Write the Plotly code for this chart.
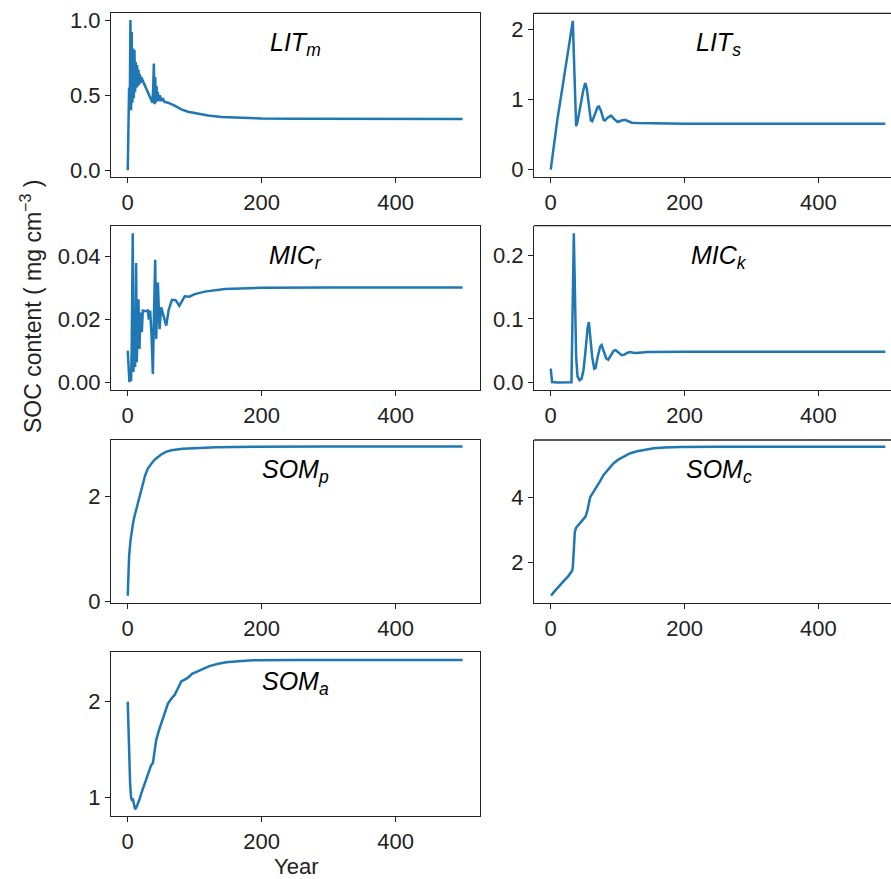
import plotly.graph_objects as go

# ---------------- data ----------------
years_lit_m = [0, 1, 2, 3, 4, 5, 6, 7, 8, 9, 10, 11, 12, 13, 14, 15, 16, 17, 18, 19, 20, 22, 25,
               28, 31, 34, 36, 37, 38, 39, 40, 41, 42, 43, 44, 45, 46, 48, 50, 52, 55, 60, 70, 80,
               90, 100, 120, 140, 160, 200, 250, 300, 400, 500]
lit_m = [0.0, 0.30, 0.55, 0.42, 1.0, 0.40, 0.92, 0.45, 0.81, 0.48, 0.80, 0.52, 0.72, 0.55, 0.70,
         0.56, 0.67, 0.57, 0.64, 0.58, 0.62, 0.60, 0.57, 0.55, 0.52, 0.49, 0.46, 0.45, 0.55, 0.71,
         0.44, 0.62, 0.45, 0.56, 0.46, 0.52, 0.46, 0.50, 0.46, 0.48, 0.455, 0.45, 0.43, 0.405,
         0.39, 0.38, 0.365, 0.355, 0.35, 0.345, 0.343, 0.342, 0.342, 0.342]

years_lit_s = [0, 5, 10, 15, 20, 25, 30, 33, 36, 38, 40, 44, 48, 51, 52, 54, 57, 60, 62, 66, 70,
               72, 75, 79, 81, 85, 90, 95, 100, 106, 111, 116, 121, 130, 150, 200, 300, 500]
lit_s = [0.0, 0.38, 0.72, 1.02, 1.32, 1.60, 1.92, 2.12, 1.20, 0.62, 0.68, 0.90, 1.10, 1.22, 1.23,
         1.15, 0.90, 0.70, 0.69, 0.80, 0.89, 0.90, 0.84, 0.71, 0.70, 0.74, 0.77, 0.72, 0.68, 0.70,
         0.71, 0.69, 0.67, 0.665, 0.66, 0.655, 0.655, 0.655]

years_mic_r = [0, 1, 2.5, 4, 5, 6, 7.5, 8.5, 10, 11, 12.5, 13.5, 15, 16, 17.5, 19, 21, 22.5, 26,
               30, 31.5, 33.5, 35.5, 37.5, 39, 41, 42.5, 45, 47.5, 50, 52, 55, 57.5, 61, 66, 71.5,
               77, 85, 92, 100, 115, 145, 200, 300, 500]
mic_r = [0.0102, 0.006, 0.0002, 0.003, 0.0005, 0.012, 0.0474, 0.0034, 0.020, 0.005, 0.038,
         0.0065, 0.020, 0.0265, 0.0107, 0.0223, 0.016, 0.0229, 0.0227, 0.0229, 0.020, 0.0229,
         0.015, 0.0028, 0.020, 0.039, 0.0139, 0.0318, 0.017, 0.0239, 0.0223, 0.020, 0.0181,
         0.023, 0.0263, 0.0262, 0.0244, 0.0274, 0.0273, 0.0281, 0.0289, 0.0297, 0.0301, 0.0302,
         0.0302]

years_mic_k = [0, 2, 10, 20, 31, 34.5, 36, 38, 40, 43, 46, 49, 52, 55, 57, 59, 62, 65, 67, 70, 74,
               76, 79, 83, 86, 90, 94, 97, 101, 106, 110, 115, 119, 125, 132, 145, 200, 500]
mic_k = [0.022, 0.001, 0.0005, 0.0005, 0.0008, 0.234, 0.15, 0.04, 0.01, 0.004, 0.006, 0.02, 0.05,
         0.085, 0.095, 0.075, 0.04, 0.022, 0.023, 0.04, 0.057, 0.059, 0.05, 0.038, 0.036, 0.043,
         0.05, 0.051, 0.047, 0.043, 0.044, 0.047, 0.048, 0.0465, 0.047, 0.048, 0.0485, 0.0485]

years_som_p = [0, 1, 2, 4, 6, 8, 10, 12.5, 15, 17.5, 20, 22.5, 26, 30, 34, 37.5, 41, 45, 50, 57,
               65, 82, 100, 132, 160, 207, 300, 500]
som_p = [0.1, 0.55, 0.85, 1.15, 1.35, 1.5, 1.62, 1.74, 1.88, 2.0, 2.13, 2.25, 2.41, 2.54, 2.62,
         2.67, 2.72, 2.76, 2.81, 2.86, 2.89, 2.92, 2.935, 2.95, 2.955, 2.958, 2.96, 2.96]

years_som_c = [0, 2, 4, 8, 14, 20, 26, 32, 33, 34, 35, 36, 38, 40, 44, 48, 52, 55, 57, 59, 63, 69,
               74, 79, 86, 94, 101, 109, 118, 129, 140, 154, 170, 194, 250, 500]
som_c = [1.0, 1.02, 1.08, 1.18, 1.32, 1.45, 1.58, 1.75, 1.85, 2.2, 2.6, 2.95, 3.08, 3.13, 3.22,
         3.32, 3.42, 3.62, 3.85, 4.02, 4.15, 4.34, 4.52, 4.70, 4.88, 5.06, 5.17, 5.27, 5.36, 5.43,
         5.48, 5.52, 5.545, 5.56, 5.57, 5.57]

years_som_a = [0, 1, 2, 3.5, 5, 6, 7.5, 9, 11, 13, 15, 17.5, 20, 24, 27.5, 31, 35, 37.5, 39, 42.5,
               47, 52, 56, 60, 65, 70, 75, 80, 85, 90, 96, 102, 112, 122, 135, 147, 165, 187, 250,
               500]
som_a = [2.0, 1.65, 1.38, 1.15, 1.0, 0.98, 0.99, 0.93, 0.88, 0.90, 0.93, 0.98, 1.04, 1.12, 1.20,
         1.28, 1.34, 1.36, 1.45, 1.60, 1.71, 1.81, 1.90, 1.98, 2.03, 2.07, 2.14, 2.21, 2.23, 2.25,
         2.29, 2.31, 2.345, 2.37, 2.395, 2.41, 2.42, 2.43, 2.435, 2.435]

x_ticks = [0, 200, 400]
y_label = "SOC content ( mg cm<sup>−3</sup> )"
x_label = "Year"

# ---------------- layout config ----------------
W, H = 891, 879
LINE = "#1f77b4"
INK = "#222222"
FONT = "Liberation Sans, Arial, sans-serif"
TICK_SIZE = 22

cols = {0: (111, 480, [-25, 526]), 1: (534, 891, [-25, 508.5])}
rows = {0: (13.3, 177), 1: (225.7, 390), 2: (440, 603.3), 3: (652.3, 816)}

panels = [
    dict(x=years_lit_m, y=lit_m, name="LIT", sub="m", r=0, c=0, rng=[-0.045, 1.045],
         tv=[0, 0.5, 1.0], fmt=".1f"),
    dict(x=years_lit_s, y=lit_s, name="LIT", sub="s", r=0, c=1, rng=[-0.104, 2.228],
         tv=[0, 1, 2], fmt="d"),
    dict(x=years_mic_r, y=mic_r, name="MIC", sub="r", r=1, c=0, rng=[-0.0023, 0.0498],
         tv=[0, 0.02, 0.04], fmt=".2f"),
    dict(x=years_mic_k, y=mic_k, name="MIC", sub="k", r=1, c=1, rng=[-0.0114, 0.2459],
         tv=[0, 0.1, 0.2], fmt=".1f"),
    dict(x=years_som_p, y=som_p, name="SOM", sub="p", r=2, c=0, rng=[-0.044, 3.087],
         tv=[0, 2], fmt="d"),
    dict(x=years_som_c, y=som_c, name="SOM", sub="c", r=2, c=1, rng=[0.751, 5.775],
         tv=[2, 4], fmt="d"),
    dict(x=years_som_a, y=som_a, name="SOM", sub="a", r=3, c=0, rng=[0.809, 2.514],
         tv=[1, 2], fmt="d"),
]

fig = go.Figure()
layout = dict(width=W, height=H, margin=dict(l=0, r=0, t=0, b=0, autoexpand=False),
              paper_bgcolor="white", plot_bgcolor="white", showlegend=False,
              font=dict(family=FONT, size=22, color=INK))
annotations = []
shapes = []

for i, p in enumerate(panels, start=1):
    x0, x1, xr = cols[p["c"]]
    top, bot = rows[p["r"]]
    xa = "xaxis" if i == 1 else f"xaxis{i}"
    ya = "yaxis" if i == 1 else f"yaxis{i}"
    xs = "x" if i == 1 else f"x{i}"
    ys = "y" if i == 1 else f"y{i}"
    mirror = p["c"] == 0
    layout[xa] = dict(domain=[x0 / W, x1 / W], range=xr, anchor=ys, tickvals=x_ticks,
                      ticks="outside", ticklen=5, tickwidth=1.2, tickcolor=INK,
                      showline=True, linecolor=INK, linewidth=1.2, mirror=mirror,
                      showgrid=False, zeroline=False, automargin=False,
                      tickfont=dict(family=FONT, size=TICK_SIZE, color=INK))
    layout[ya] = dict(domain=[1 - bot / H, 1 - top / H], range=p["rng"], anchor=xs,
                      tickvals=p["tv"], tickformat=p["fmt"],
                      ticks="outside", ticklen=5, tickwidth=1.2, tickcolor=INK,
                      showline=True, linecolor=INK, linewidth=1.2, mirror=mirror,
                      showgrid=False, zeroline=False, automargin=False,
                      tickfont=dict(family=FONT, size=TICK_SIZE, color=INK))
    if not mirror:
        shapes.append(dict(type="line", xref=f"{xs} domain", yref=f"{ys} domain",
                           x0=0, x1=1, y0=1, y1=1, line=dict(color=INK, width=1.3)))
    fig.add_trace(go.Scatter(x=p["x"], y=p["y"], mode="lines", xaxis=xs, yaxis=ys,
                             line=dict(color=LINE, width=2.5), hoverinfo="skip"))
    annotations.append(dict(xref="paper", yref="paper", x=(x0 + 184.5) / W,
                            y=1 - (top + 31) / H, xanchor="center", yanchor="middle",
                            text=f"<i>{p['name']}<sub>{p['sub']}</sub></i>",
                            showarrow=False,
                            font=dict(family=FONT, size=25, color="black")))

annotations.append(dict(xref="paper", yref="paper", x=31 / W, y=1 - 306 / H,
                        xanchor="center", yanchor="middle", textangle=-90,
                        text=y_label, showarrow=False,
                        font=dict(family=FONT, size=23, color=INK)))
annotations.append(dict(xref="paper", yref="paper", x=296 / W, y=1 - 866 / H,
                        xanchor="center", yanchor="middle", text=x_label,
                        showarrow=False, font=dict(family=FONT, size=22, color=INK)))

layout["annotations"] = annotations
layout["shapes"] = shapes
fig.update_layout(**layout)
fig.write_html(
    "out.html",
    config={"displayModeBar": False},
    post_script="document.body.style.margin='0';document.body.style.overflow='hidden';"
                "document.documentElement.style.overflow='hidden';",
)
